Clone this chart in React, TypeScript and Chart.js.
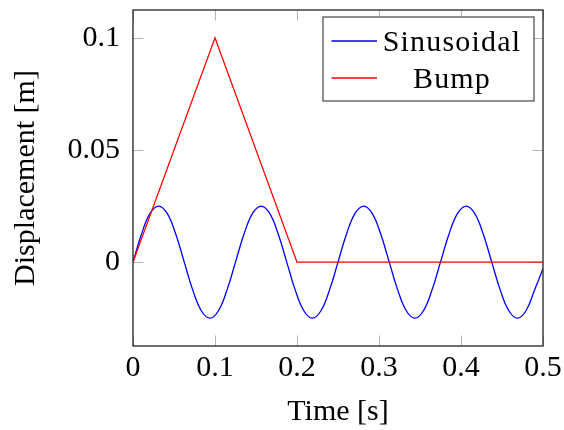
import { useEffect, useRef } from 'react';
import { Chart, registerables } from 'chart.js';

Chart.register(...registerables);

// Sinusoidal series, sampled every 1/96 s
const sinTimes = [
  0, 0.0104, 0.0208, 0.0313, 0.0417, 0.0521, 0.0625, 0.0729, 0.0833, 0.0938, 0.1042, 0.1146,
  0.125, 0.1354, 0.1458, 0.1563, 0.1667, 0.1771, 0.1875, 0.1979, 0.2083, 0.2188, 0.2292, 0.2396,
  0.25, 0.2604, 0.2708, 0.2813, 0.2917, 0.3021, 0.3125, 0.3229, 0.3333, 0.3438, 0.3542, 0.3646,
  0.375, 0.3854, 0.3958, 0.4063, 0.4167, 0.4271, 0.4375, 0.4479, 0.4583, 0.4688, 0.4792, 0.4896,
  0.5,
];
const sinValues = [
  0, 0.0125, 0.0217, 0.025, 0.0217, 0.0125, 0, -0.0125, -0.0217, -0.025, -0.0217, -0.0125,
  0, 0.0125, 0.0217, 0.025, 0.0217, 0.0125, 0, -0.0125, -0.0217, -0.025, -0.0217, -0.0125,
  0, 0.0125, 0.0217, 0.025, 0.0217, 0.0125, 0, -0.0125, -0.0217, -0.025, -0.0217, -0.0125,
  0, 0.0125, 0.0217, 0.025, 0.0217, 0.0125, 0, -0.0125, -0.0217, -0.025, -0.0217, -0.0125,
  -0.003,
];
const bumpTimes = [0, 0.1, 0.2, 0.5];
const bumpValues = [0, 0.1, 0, 0];

const seriesNames = ['Sinusoidal', 'Bump'];
const seriesColors = ['#0000ff', '#ff0000'];

const xTicks = [0, 0.1, 0.2, 0.3, 0.4, 0.5];
const xTickLabels = ['0', '0.1', '0.2', '0.3', '0.4', '0.5'];
const yTicks = [0, 0.05, 0.1];
const yTickLabels = ['0', '0.05', '0.1'];
const xRange = [0, 0.5];
const yRange = [-0.0374, 0.1124];

const FONT = "'Liberation Serif', 'DejaVu Serif', 'Times New Roman', Times, serif";

const seg = (ctx: any, x1: number, y1: number, x2: number, y2: number) => {
  ctx.beginPath();
  ctx.moveTo(x1, y1);
  ctx.lineTo(x2, y2);
  ctx.stroke();
};

const innerTicks = {
  id: 'innerTicks',
  beforeDatasetsDraw(chart: any) {
    const { ctx, chartArea: a, scales } = chart;
    const x = scales.x;
    const y = scales.y;
    const L = 10.5;
    ctx.save();
    ctx.strokeStyle = '#b3b3b3';
    ctx.lineWidth = 1;
    x.ticks.forEach((t: any) => {
      const px = Math.round(x.getPixelForValue(t.value)) + 0.5;
      seg(ctx, px, a.bottom, px, a.bottom - L);
      seg(ctx, px, a.top, px, a.top + L);
    });
    y.ticks.forEach((t: any) => {
      const py = Math.round(y.getPixelForValue(t.value)) + 0.5;
      seg(ctx, a.left, py, a.left + L, py);
      seg(ctx, a.right, py, a.right - L, py);
    });
    ctx.restore();
  },
};

const frameAndLegend = {
  id: 'frameAndLegend',
  afterDatasetsDraw(chart: any) {
    const { ctx, chartArea: a } = chart;
    ctx.save();
    ctx.strokeStyle = '#222';
    ctx.lineWidth = 1.3;
    ctx.strokeRect(a.left, a.top, a.right - a.left, a.bottom - a.top);

    const bw = 211;
    const bh = 84;
    const bx = a.right - 9 - bw;
    const by = a.top + 7;
    ctx.fillStyle = '#fff';
    ctx.fillRect(bx, by, bw, bh);
    ctx.strokeStyle = '#555';
    ctx.lineWidth = 1.3;
    ctx.strokeRect(bx, by, bw, bh);
    chart.data.datasets.forEach((ds: any, i: number) => {
      const ly = by + 24 + i * 37;
      ctx.strokeStyle = ds.borderColor;
      ctx.lineWidth = 1.3;
      seg(ctx, bx + 8.5, ly, bx + 54, ly);
      ctx.fillStyle = '#000';
      ctx.font = `30px ${FONT}`;
      (ctx as any).letterSpacing = '1.2px';
      ctx.textAlign = 'center';
      ctx.textBaseline = 'alphabetic';
      ctx.fillText(ds.label, bx + 129, ly + 9.5);
      (ctx as any).letterSpacing = '0px';
    });
    ctx.restore();
  },
};

export default function App() {
  const ref = useRef<HTMLCanvasElement>(null);
  useEffect(() => {
    if (!ref.current) return;
    let chart: any = null;
    let cancelled = false;
    const make = () => {
      if (cancelled || !ref.current) return;
      chart = new Chart(ref.current, {
        type: 'line',
        data: {
          datasets: [
            {
              label: seriesNames[0],
              data: sinTimes.map((t, i) => ({ x: t, y: sinValues[i] })),
              borderColor: seriesColors[0],
              borderWidth: 1.3,
              pointRadius: 0,
              tension: 0.4,
              order: 1,
            },
            {
              label: seriesNames[1],
              data: bumpTimes.map((t, i) => ({ x: t, y: bumpValues[i] })),
              borderColor: seriesColors[1],
              borderWidth: 1.3,
              pointRadius: 0,
              tension: 0,
              order: 0,
            },
          ],
        },
        options: {
          animation: false,
          responsive: false,
          layout: { padding: { top: 10, right: 21, left: 0, bottom: 0 } },
          plugins: { legend: { display: false }, tooltip: { enabled: false } },
          scales: {
            x: {
              type: 'linear',
              min: xRange[0],
              max: xRange[1],
              grid: { display: false, drawTicks: false },
              border: { display: false },
              afterBuildTicks: (s: any) => {
                s.ticks = xTicks.map((v) => ({ value: v }));
              },
              afterFit: (s: any) => {
                s.height = 84;
                s.paddingLeft = 0;
                s.paddingRight = 0;
              },
              ticks: {
                color: '#000',
                font: { family: FONT, size: 30, lineHeight: 1.2 },
                padding: 4,
                maxRotation: 0,
                autoSkip: false,
                callback: (_v: any, i: number) => xTickLabels[i],
              },
              title: {
                display: true,
                text: 'Time [s]',
                color: '#000',
                font: { family: FONT, size: 30, lineHeight: 1.2 },
                padding: { top: 0, bottom: 0 },
              },
            },
            y: {
              type: 'linear',
              min: yRange[0],
              max: yRange[1],
              grid: { display: false, drawTicks: false },
              border: { display: false },
              afterBuildTicks: (s: any) => {
                s.ticks = yTicks.map((v) => ({ value: v }));
              },
              afterFit: (s: any) => {
                s.width = 133;
                s.paddingTop = 0;
                s.paddingBottom = 0;
              },
              ticks: {
                color: '#000',
                font: { family: FONT, size: 30, lineHeight: 1.2 },
                padding: 13,
                autoSkip: false,
                callback: (_v: any, i: number) => yTickLabels[i],
              },
              title: {
                display: true,
                text: 'Displacement [m]',
                color: '#000',
                font: { family: FONT, size: 30, lineHeight: 1.2 },
                padding: { top: 8, bottom: 0 },
              },
            },
          },
        },
        plugins: [innerTicks, frameAndLegend],
      } as any);
    };
    const fonts: any = (document as any).fonts;
    if (fonts && fonts.load) {
      fonts.load("30px 'Liberation Serif'").then(make, make);
    } else {
      make();
    }
    return () => {
      cancelled = true;
      if (chart) chart.destroy();
    };
  }, []);
  return (
    <div style={{ position: 'absolute', left: 0, top: 0, width: 564, height: 430, background: '#fff' }}>
      <canvas ref={ref} width={564} height={430} />
    </div>
  );
}
